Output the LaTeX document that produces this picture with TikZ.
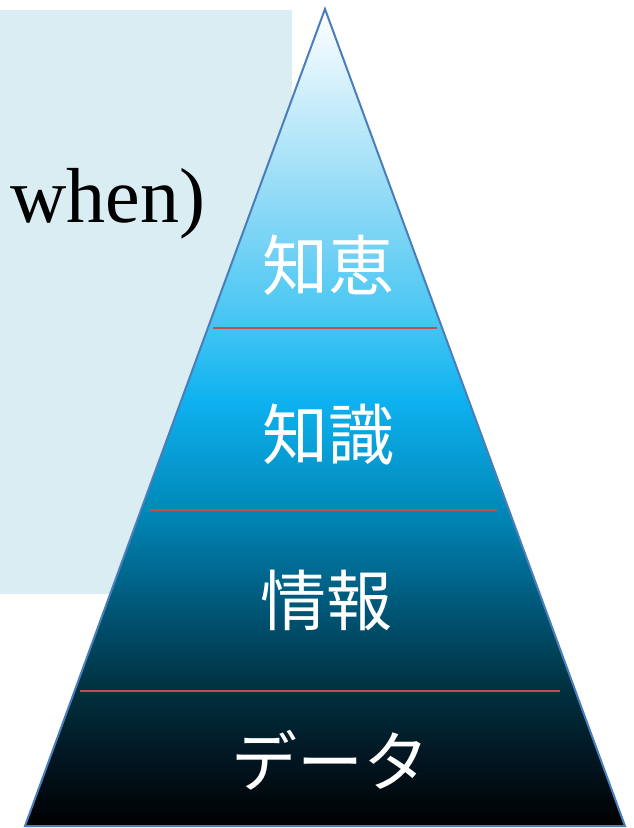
\documentclass[tikz,border=0pt]{standalone}
\usepackage{fontspec}
\setmainfont{Liberation Serif}
\newfontfamily\cjk{Noto Sans CJK JP}
\definecolor{panel}{HTML}{DAEDF3}
\definecolor{edge}{HTML}{4A7EBB}
\definecolor{divider}{HTML}{C0504D}
\pgfdeclareverticalshading{pyr}{100bp}{
  color(0bp)=(black);
  color(25bp)=(black);
  color(29bp)=(rgb,255:red,2;green,21;blue,32);
  color(33.3bp)=(rgb,255:red,0;green,48;blue,63);
  color(38.8bp)=(rgb,255:red,0;green,90;blue,124);
  color(44.3bp)=(rgb,255:red,0;green,136;blue,184);
  color(51.1bp)=(rgb,255:red,14;green,178;blue,240);
  color(55.4bp)=(rgb,255:red,64;green,196;blue,242);
  color(63.3bp)=(rgb,255:red,144;green,218;blue,246);
  color(72.5bp)=(rgb,255:red,232;green,247;blue,253);
  color(75bp)=(white);
  color(100bp)=(white)}
\tikzset{
  lbl/.style={text=white, inner sep=0pt, font=\cjk\fontsize{66}{70}\selectfont},
  divline/.style={draw=divider, line width=2.6pt}
}
\begin{document}
\begin{tikzpicture}[x=1pt,y=-1pt]
\useasboundingbox (0,0) rectangle (634,828);
\fill[panel] (0,10) rectangle (292,594);
\node[anchor=base west, inner sep=0pt, font=\fontsize{78}{80}\selectfont] (w) at (10,222) {when)};
\coordinate (apex) at (325,9);
\coordinate (bl) at (25,826);
\coordinate (br) at (625,826);
\shade[shading=pyr] (apex) -- (br) -- (bl) -- cycle;
\draw[edge, line width=2pt, line join=miter] (apex) -- (br) -- (bl) -- cycle;
\coordinate (d1l) at (213,328); \coordinate (d1r) at (437,328);
\coordinate (d2l) at (150,510); \coordinate (d2r) at (497,510);
\coordinate (d3l) at (80,691);  \coordinate (d3r) at (560,691);
\draw[divline] (d1l) -- (d1r);
\draw[divline] (d2l) -- (d2r);
\draw[divline] (d3l) -- (d3r);
\node[lbl] (l1) at (328,265) {知恵};
\node[lbl] (l2) at (328,435) {知識};
\node[lbl] (l3) at (326,600) {情報};
\node[lbl] (l4) at (330,760) {データ};
\end{tikzpicture}
\end{document}
